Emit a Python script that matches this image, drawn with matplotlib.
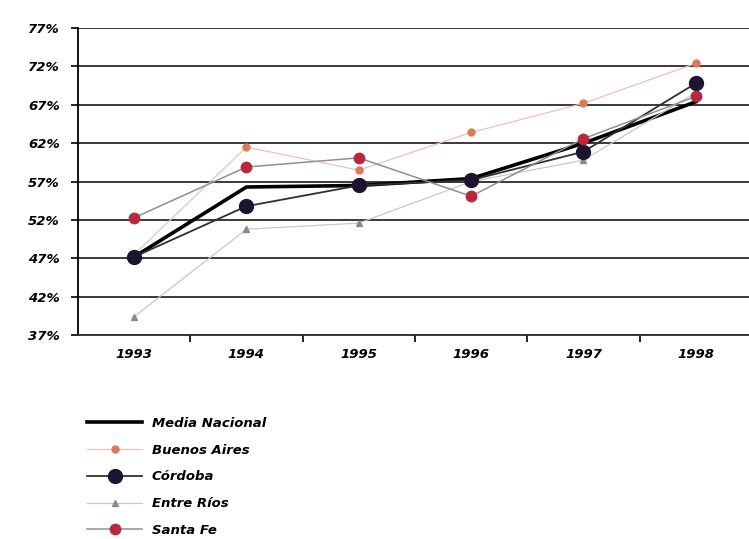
import matplotlib
matplotlib.use("Agg")
import matplotlib.pyplot as plt

years = ["1993", "1994", "1995", "1996", "1997", "1998"]
media_nacional = [47.2, 56.3, 56.5, 57.4, 62.0, 67.4]
buenos_aires = [47.5, 61.5, 58.5, 63.4, 67.2, 72.4]
cordoba = [47.2, 53.8, 56.5, 57.2, 60.9, 69.8]
entre_rios = [39.4, 50.8, 51.6, 57.0, 59.8, 68.6]
santa_fe = [52.3, 58.9, 60.1, 55.1, 62.6, 68.1]
yticks = [37, 42, 47, 52, 57, 62, 67, 72, 77]

fnt = dict(family="DejaVu Sans", weight="bold", style="italic")

fig = plt.figure(figsize=(7.49, 5.39), dpi=100)
ax = fig.add_axes([0.104, 0.378, 0.90, 0.570])

x = list(range(len(years)))

ax.plot(x, media_nacional, color="black", lw=2.6, zorder=3, label="Media Nacional")
ax.plot(x, entre_rios, color="#c8c8c8", lw=0.9, marker="^", ms=5,
        mfc="#8a8a8a", mec="#8a8a8a", zorder=4, label="Entre Ríos")
ax.plot(x, buenos_aires, color="#f0c0b8", lw=0.9, marker="o", ms=5,
        mfc="#e07858", mec="#e07858", zorder=4, label="Buenos Aires")
ax.plot(x, cordoba, color="#303030", lw=1.3, marker="o", ms=10,
        mfc="#1c1430", mec="#1c1430", zorder=5, label="Córdoba")
ax.plot(x, santa_fe, color="#909090", lw=1.1, marker="o", ms=7.5,
        mfc="#b8283e", mec="#b8283e", zorder=6, label="Santa Fe")

ax.set_xlim(-0.5, 5.5)
ax.set_ylim(37, 77)
ax.set_yticks(yticks)
ax.set_yticklabels([f"{v}%" for v in yticks], fontsize=9.5, **fnt)
ax.yaxis.grid(True, color="#2a2a2a", lw=1.3)
ax.set_axisbelow(True)

ax.set_xticks(x)
ax.set_xticklabels(years, fontsize=9.5, **fnt)
ax.set_xticks([i + 0.5 for i in range(len(years) - 1)], minor=True)
ax.tick_params(axis="x", which="major", length=0, pad=9)
ax.tick_params(axis="x", which="minor", length=5, width=1.2, direction="out")
ax.tick_params(axis="y", length=5, width=1.2, pad=8)

for s in ["top", "right"]:
    ax.spines[s].set_visible(False)
ax.spines["left"].set_linewidth(1.3)
ax.spines["bottom"].set_linewidth(1.3)
ax.spines["bottom"].set_color("#2a2a2a")

handles, labels = ax.get_legend_handles_labels()
order = ["Media Nacional", "Buenos Aires", "Córdoba", "Entre Ríos", "Santa Fe"]
hmap = dict(zip(labels, handles))
leg = fig.legend([hmap[k] for k in order], order, loc="upper left",
                 bbox_to_anchor=(0.116, 0.227), frameon=False,
                 prop=dict(size=9.5, **fnt), handlelength=4.2,
                 labelspacing=1.05, handletextpad=0.7, borderaxespad=0,
                 borderpad=0)

fig.savefig("out.png", dpi=100)
